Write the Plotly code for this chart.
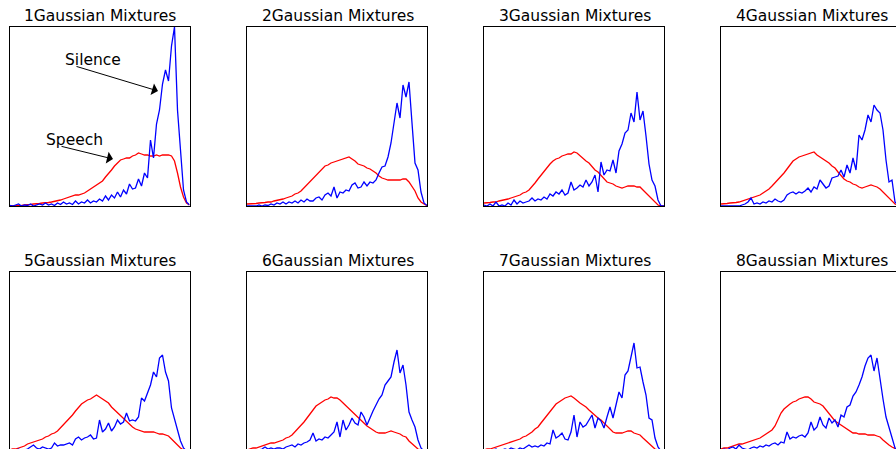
import plotly.graph_objects as go

TITLES = ["1Gaussian Mixtures", "2Gaussian Mixtures", "3Gaussian Mixtures", "4Gaussian Mixtures",
          "5Gaussian Mixtures", "6Gaussian Mixtures", "7Gaussian Mixtures", "8Gaussian Mixtures"]

# histogram bins (every 3 units across each panel)
speech_1 = [0, 0, 0, 0.5, 0.5, 1, 1, 1.5, 2, 2, 2.5, 3, 3, 3.5, 4, 4.5, 5, 6, 7, 8,
            9, 10, 11, 11, 12, 13, 15, 17, 19, 21, 23, 25, 29, 32, 36, 40, 43, 46, 47, 48,
            48, 50, 51, 53, 52, 51, 51, 50, 50, 51, 50, 51, 51, 51, 50, 45, 33, 19, 9, 3, 1]
silence_1 = [0.5, 0, 1, 2, 0, 1, 0.5, 2, 0, 1, 2, 1, 3, 1, 2, 0.5, 3, 1.5, 4, 2,
             3, 1.5, 5, 2, 4, 3, 6, 3, 5, 4, 7, 5, 10, 6, 11, 8, 14, 9, 16, 12,
             22, 17, 18, 27, 20, 33, 28, 66, 48, 82, 96, 122, 136, 125, 160, 179, 96, 56, 16, 4, 1]

speech_2 = [2, 2, 2, 2.5, 3, 3, 3.5, 4, 4, 5, 5.5, 6, 7, 8, 9, 10, 12, 13, 15, 18,
            21, 24, 27, 30, 33, 36, 40, 41, 43, 44, 45, 46, 47, 48, 49, 47, 45, 42, 41, 40,
            38, 37, 35, 33, 30, 28, 27, 26, 26, 26, 26, 26, 27, 27, 24, 20, 15, 8, 4, 2, 0.5]
silence_2 = [0, 0, 0.5, 0, 1, 0, 1, 0.5, 2, 1, 3, 2, 4, 2, 4, 3, 5, 3, 6, 4,
             7, 5, 5, 8, 9, 6, 11, 13, 10, 19, 8, 14, 13, 16, 15, 21, 23, 18, 19, 24,
             20, 24, 23, 26, 33, 39, 40, 49, 63, 83, 103, 88, 121, 109, 124, 83, 43, 36, 14, 3, 0.5]

speech_3 = [3, 3, 3.5, 4, 4, 5, 5.5, 6, 7, 8, 9, 10, 11, 13, 14, 16, 19, 23, 27, 31,
            35, 38, 42, 45, 47, 48, 50, 51, 52, 52, 54, 53, 50, 48, 45, 43, 39, 36, 34, 31,
            28, 24, 23, 22, 20, 19, 18, 19, 20, 20, 20, 19, 19, 16, 13, 10, 6, 3, 1, 0, 0]
silence_3 = [1, 0, 2, 0, 4, 0, 1, 0, 3, 1, 6, 2, 5, 3, 4, 5, 8, 5, 7, 6,
             9, 7, 12, 10, 14, 12, 16, 11, 13, 24, 16, 18, 21, 19, 26, 20, 24, 31, 14, 44,
             31, 36, 35, 46, 33, 55, 62, 73, 76, 93, 84, 114, 86, 95, 70, 42, 26, 20, 6, 0, 0]

speech_4 = [2, 2, 2.5, 3, 3, 3.5, 4, 5, 6, 7, 8, 9, 10, 11, 13, 15, 17, 20, 23, 26,
            29, 33, 37, 41, 45, 47, 49, 50, 51, 52, 53, 54, 51, 49, 47, 45, 43, 40, 38, 34,
            30, 27, 25, 24, 22, 21, 19, 18, 19, 20, 21, 20, 19, 17, 14, 11, 8, 4, 2, 1, 0]
silence_4 = [0, 0, 0, 0.5, 0, 0.5, 0, 1, 2, 4, 8, 2, 3, 2, 4, 3, 5, 4, 7, 5,
             4, 6, 11, 13, 14, 12, 14, 13, 15, 18, 14, 19, 17, 26, 22, 18, 20, 28, 29, 30,
             36, 29, 41, 33, 48, 36, 71, 66, 76, 91, 84, 101, 96, 93, 76, 46, 24, 26, 4, 1, 0]

speech_5 = [1, 2, 2, 3, 4, 5, 7, 8, 9, 10, 11, 12, 14, 15, 17, 18, 20, 23, 26, 29,
            32, 36, 40, 44, 47, 49, 51, 52, 54, 56, 54, 52, 50, 48, 44, 41, 38, 36, 33, 29,
            27, 24, 22, 21, 20, 19, 19, 19, 19, 18, 17, 17, 16, 15, 12, 9, 5, 3, 1, 0, 0]
silence_5 = [0, 1, 0, 2, 0, 1, 2, 4, 6, 3, 2, 4, 3, 2, 3, 8, 5, 6, 6, 7,
             8, 6, 12, 14, 11, 13, 14, 16, 12, 13, 31, 19, 22, 28, 20, 24, 31, 27, 29, 38,
             30, 31, 30, 34, 53, 50, 58, 66, 79, 74, 93, 96, 79, 70, 43, 31, 21, 10, 3, 0, 0]

speech_6 = [1, 2, 3, 3, 4, 5, 6, 7, 8, 8, 9, 10, 11, 13, 14, 16, 19, 23, 25, 29,
            33, 37, 41, 45, 47, 49, 51, 52, 54, 53, 53, 51, 48, 46, 43, 40, 37, 33, 30, 27,
            25, 23, 21, 19, 18, 18, 18, 19, 20, 19, 18, 17, 15, 14, 10, 7, 4, 2, 1, 0, 0]
silence_6 = [0, 0, 1, 0, 1, 2, 4, 2, 3, 2, 3, 3, 2, 4, 5, 6, 4, 7, 6, 8,
             9, 11, 18, 10, 12, 11, 14, 13, 16, 19, 29, 14, 31, 21, 26, 33, 28, 26, 39, 34,
             26, 34, 40, 46, 52, 56, 66, 70, 74, 89, 101, 78, 86, 66, 39, 31, 24, 11, 3, 0, 0]

speech_7 = [1, 2, 2, 3, 4, 5, 6, 7, 8, 9, 10, 11, 12, 14, 15, 17, 19, 22, 24, 28,
            32, 36, 40, 44, 47, 49, 51, 53, 54, 55, 53, 50, 48, 46, 44, 41, 38, 36, 33, 31,
            28, 26, 22, 19, 18, 18, 18, 19, 20, 20, 18, 17, 16, 13, 10, 8, 4, 2, 1, 0, 0]
silence_7 = [0, 1, 0, 1, 2, 0, 1, 2, 1, 3, 2, 1, 3, 2, 4, 6, 4, 5, 4, 6,
             5, 8, 7, 21, 13, 15, 18, 12, 11, 19, 36, 14, 29, 24, 26, 31, 36, 23, 33, 30,
             23, 34, 44, 33, 45, 59, 53, 76, 80, 96, 108, 83, 84, 69, 56, 33, 31, 13, 4, 0, 0]

speech_8 = [2, 3, 3, 4, 5, 6, 7, 7, 8, 9, 10, 11, 12, 13, 15, 17, 19, 21, 25, 31,
            38, 42, 45, 47, 49, 50, 52, 53, 54, 54, 52, 49, 48, 47, 45, 41, 38, 34, 30, 28,
            26, 24, 22, 20, 18, 18, 17, 17, 17, 16, 16, 16, 15, 14, 11, 8, 6, 4, 2, 1, 0]
silence_8 = [0, 2, 1, 3, 4, 2, 6, 3, 2, 1, 3, 4, 3, 5, 4, 6, 5, 7, 8, 6,
             9, 8, 19, 12, 14, 13, 15, 16, 14, 18, 29, 21, 24, 34, 26, 23, 33, 28, 31, 24,
             36, 34, 44, 46, 55, 59, 66, 74, 85, 93, 96, 80, 93, 70, 52, 34, 23, 13, 3, 0, 0]

SPEECH = [speech_1, speech_2, speech_3, speech_4, speech_5, speech_6, speech_7, speech_8]
SILENCE = [silence_1, silence_2, silence_3, silence_4, silence_5, silence_6, silence_7, silence_8]
BIN_STEP = 3

W, H = 896, 449
COL_LEFT = [9.5, 247, 484, 721]
PANEL_W = 180
ROW_TOP = [27, 272]
PANEL_H = 179

FONT = "DejaVu Sans"
FSIZE = 15.5

fig = go.Figure()
layout = dict(width=W, height=H, margin=dict(l=0, r=0, t=0, b=0),
              paper_bgcolor="white", plot_bgcolor="white", showlegend=False)
annotations = []

for k in range(8):
    r, c = divmod(k, 4)
    idx = k + 1
    xa = "xaxis" if idx == 1 else f"xaxis{idx}"
    ya = "yaxis" if idx == 1 else f"yaxis{idx}"
    xref = "x" if idx == 1 else f"x{idx}"
    yref = "y" if idx == 1 else f"y{idx}"
    left = COL_LEFT[c]
    right = min(left + PANEL_W, W)
    top = ROW_TOP[r]
    bottom = min(top + PANEL_H, H)
    # panels that run past the page edge are cut, as in the reference
    xr = [0, right - left]
    yr = [(top + PANEL_H) - bottom, PANEL_H]
    layout[xa] = dict(domain=[left / W, right / W], range=xr, anchor=yref,
                      showline=True, linecolor="black", linewidth=1,
                      mirror=(r == 0), side=("bottom" if r == 0 else "top"),
                      showgrid=False, zeroline=False, showticklabels=False, ticks="")
    layout[ya] = dict(domain=[1 - bottom / H, 1 - top / H], range=yr, anchor=xref,
                      showline=True, linecolor="black", linewidth=1,
                      mirror=(c < 3),
                      showgrid=False, zeroline=False, showticklabels=False, ticks="")
    for series, color in ((SPEECH[k], "#ff0000"), (SILENCE[k], "#0000ff")):
        fig.add_trace(go.Scatter(x=[i * BIN_STEP for i in range(len(series))], y=series,
                                 mode="lines", line=dict(color=color, width=1.3),
                                 xaxis=xref, yaxis=yref, hoverinfo="skip"))
    annotations.append(dict(text=TITLES[k], xref="paper", yref="paper",
                            x=(left + PANEL_W / 2 + 0.5) / W, y=1 - (top - 11.5) / H,
                            xanchor="center", yanchor="middle", showarrow=False,
                            font=dict(family=FONT, size=FSIZE, color="black")))

# labels with arrows in panel 1
annotations += [
    dict(text="Silence", x=83, y=146, xref="x", yref="y", showarrow=False,
         font=dict(family=FONT, size=FSIZE, color="black")),
    dict(text="Speech", x=64.5, y=66, xref="x", yref="y", showarrow=False,
         font=dict(family=FONT, size=FSIZE, color="black")),
    dict(text="", x=148.5, y=115, xref="x", yref="y", showarrow=True,
         ax=-83, ay=-25, arrowhead=1, arrowsize=2, arrowwidth=1, arrowcolor="black"),
    dict(text="", x=103.5, y=47, xref="x", yref="y", showarrow=True,
         ax=-53, ay=-13, arrowhead=1, arrowsize=2, arrowwidth=1, arrowcolor="black"),
]
layout["annotations"] = annotations
fig.update_layout(**layout)
fig.write_html("out.html", config={"displayModeBar": False},
               post_script="document.body.style.margin='0';document.body.style.overflow='hidden';")
